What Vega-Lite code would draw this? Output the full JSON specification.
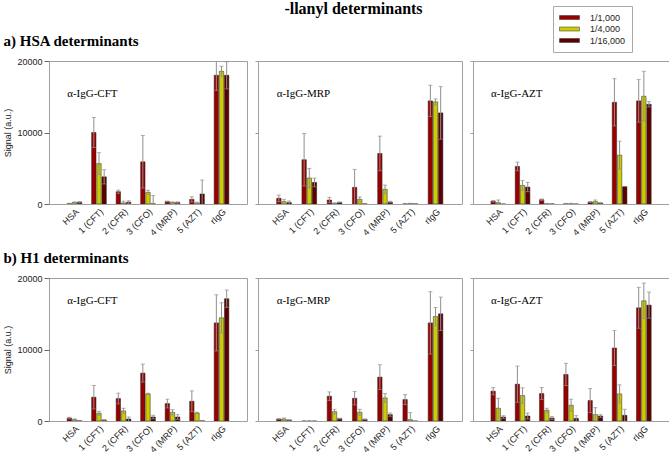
{
"$schema":"https://vega.github.io/schema/vega-lite/v6.json",
"padding":{"left":3,"top":0,"right":0,"bottom":0},
"title":{"text":"-llanyl determinants","font":"Liberation Serif","fontSize":16,"fontWeight":"bold","anchor":"middle","dx":17,"offset":-11,"color":"#000"},
"data":{"values":[
{"r":"a","ab":"α-IgG-CFT","det":"HSA","dil":"1/1,000","v":50,"lo":0,"hi":100},
{"r":"a","ab":"α-IgG-CFT","det":"HSA","dil":"1/4,000","v":200,"lo":100,"hi":300},
{"r":"a","ab":"α-IgG-CFT","det":"HSA","dil":"1/16,000","v":250,"lo":150,"hi":350},
{"r":"a","ab":"α-IgG-CFT","det":"1 (CFT)","dil":"1/1,000","v":10000,"lo":7900,"hi":12100},
{"r":"a","ab":"α-IgG-CFT","det":"1 (CFT)","dil":"1/4,000","v":5650,"lo":4120,"hi":7180},
{"r":"a","ab":"α-IgG-CFT","det":"1 (CFT)","dil":"1/16,000","v":3800,"lo":2800,"hi":4800},
{"r":"a","ab":"α-IgG-CFT","det":"2 (CFR)","dil":"1/1,000","v":1720,"lo":1490,"hi":1950},
{"r":"a","ab":"α-IgG-CFT","det":"2 (CFR)","dil":"1/4,000","v":150,"lo":0,"hi":400},
{"r":"a","ab":"α-IgG-CFT","det":"2 (CFR)","dil":"1/16,000","v":250,"lo":50,"hi":450},
{"r":"a","ab":"α-IgG-CFT","det":"3 (CFO)","dil":"1/1,000","v":5900,"lo":2220,"hi":9580},
{"r":"a","ab":"α-IgG-CFT","det":"3 (CFO)","dil":"1/4,000","v":1630,"lo":1330,"hi":1930},
{"r":"a","ab":"α-IgG-CFT","det":"3 (CFO)","dil":"1/16,000","v":30,"lo":0,"hi":1180},
{"r":"a","ab":"α-IgG-CFT","det":"4 (MRP)","dil":"1/1,000","v":350,"lo":300,"hi":400},
{"r":"a","ab":"α-IgG-CFT","det":"4 (MRP)","dil":"1/4,000","v":200,"lo":100,"hi":300},
{"r":"a","ab":"α-IgG-CFT","det":"4 (MRP)","dil":"1/16,000","v":200,"lo":100,"hi":300},
{"r":"a","ab":"α-IgG-CFT","det":"5 (AZT)","dil":"1/1,000","v":650,"lo":280,"hi":1020},
{"r":"a","ab":"α-IgG-CFT","det":"5 (AZT)","dil":"1/4,000","v":150,"lo":50,"hi":250},
{"r":"a","ab":"α-IgG-CFT","det":"5 (AZT)","dil":"1/16,000","v":1400,"lo":0,"hi":3350},
{"r":"a","ab":"α-IgG-CFT","det":"rIgG","dil":"1/1,000","v":18000,"lo":15900,"hi":20100},
{"r":"a","ab":"α-IgG-CFT","det":"rIgG","dil":"1/4,000","v":18560,"lo":17860,"hi":19260},
{"r":"a","ab":"α-IgG-CFT","det":"rIgG","dil":"1/16,000","v":18000,"lo":16100,"hi":19900},
{"r":"a","ab":"α-IgG-MRP","det":"HSA","dil":"1/1,000","v":790,"lo":330,"hi":1250},
{"r":"a","ab":"α-IgG-MRP","det":"HSA","dil":"1/4,000","v":330,"lo":10,"hi":650},
{"r":"a","ab":"α-IgG-MRP","det":"HSA","dil":"1/16,000","v":190,"lo":0,"hi":420},
{"r":"a","ab":"α-IgG-MRP","det":"1 (CFT)","dil":"1/1,000","v":6190,"lo":2520,"hi":9860},
{"r":"a","ab":"α-IgG-MRP","det":"1 (CFT)","dil":"1/4,000","v":3630,"lo":2280,"hi":4980},
{"r":"a","ab":"α-IgG-MRP","det":"1 (CFT)","dil":"1/16,000","v":3020,"lo":2410,"hi":3630},
{"r":"a","ab":"α-IgG-MRP","det":"2 (CFR)","dil":"1/1,000","v":560,"lo":190,"hi":930},
{"r":"a","ab":"α-IgG-MRP","det":"2 (CFR)","dil":"1/4,000","v":100,"lo":50,"hi":150},
{"r":"a","ab":"α-IgG-MRP","det":"2 (CFR)","dil":"1/16,000","v":230,"lo":180,"hi":280},
{"r":"a","ab":"α-IgG-MRP","det":"3 (CFO)","dil":"1/1,000","v":2330,"lo":0,"hi":4840},
{"r":"a","ab":"α-IgG-MRP","det":"3 (CFO)","dil":"1/4,000","v":650,"lo":320,"hi":980},
{"r":"a","ab":"α-IgG-MRP","det":"3 (CFO)","dil":"1/16,000","v":20,"lo":0,"hi":40},
{"r":"a","ab":"α-IgG-MRP","det":"4 (MRP)","dil":"1/1,000","v":7070,"lo":4650,"hi":9490},
{"r":"a","ab":"α-IgG-MRP","det":"4 (MRP)","dil":"1/4,000","v":2050,"lo":1450,"hi":2650},
{"r":"a","ab":"α-IgG-MRP","det":"4 (MRP)","dil":"1/16,000","v":280,"lo":180,"hi":380},
{"r":"a","ab":"α-IgG-MRP","det":"5 (AZT)","dil":"1/1,000","v":30,"lo":10,"hi":50},
{"r":"a","ab":"α-IgG-MRP","det":"5 (AZT)","dil":"1/4,000","v":60,"lo":20,"hi":100},
{"r":"a","ab":"α-IgG-MRP","det":"5 (AZT)","dil":"1/16,000","v":20,"lo":0,"hi":40},
{"r":"a","ab":"α-IgG-MRP","det":"rIgG","dil":"1/1,000","v":14420,"lo":12230,"hi":16610},
{"r":"a","ab":"α-IgG-MRP","det":"rIgG","dil":"1/4,000","v":14280,"lo":13860,"hi":14700},
{"r":"a","ab":"α-IgG-MRP","det":"rIgG","dil":"1/16,000","v":12740,"lo":9060,"hi":16420},
{"r":"a","ab":"α-IgG-AZT","det":"HSA","dil":"1/1,000","v":400,"lo":300,"hi":500},
{"r":"a","ab":"α-IgG-AZT","det":"HSA","dil":"1/4,000","v":190,"lo":0,"hi":560},
{"r":"a","ab":"α-IgG-AZT","det":"HSA","dil":"1/16,000","v":0,"lo":0,"hi":0},
{"r":"a","ab":"α-IgG-AZT","det":"1 (CFT)","dil":"1/1,000","v":5260,"lo":4660,"hi":5860},
{"r":"a","ab":"α-IgG-AZT","det":"1 (CFT)","dil":"1/4,000","v":2600,"lo":1900,"hi":3300},
{"r":"a","ab":"α-IgG-AZT","det":"1 (CFT)","dil":"1/16,000","v":2370,"lo":1720,"hi":3020},
{"r":"a","ab":"α-IgG-AZT","det":"2 (CFR)","dil":"1/1,000","v":600,"lo":500,"hi":700},
{"r":"a","ab":"α-IgG-AZT","det":"2 (CFR)","dil":"1/4,000","v":50,"lo":20,"hi":80},
{"r":"a","ab":"α-IgG-AZT","det":"2 (CFR)","dil":"1/16,000","v":30,"lo":10,"hi":50},
{"r":"a","ab":"α-IgG-AZT","det":"3 (CFO)","dil":"1/1,000","v":50,"lo":20,"hi":80},
{"r":"a","ab":"α-IgG-AZT","det":"3 (CFO)","dil":"1/4,000","v":60,"lo":30,"hi":90},
{"r":"a","ab":"α-IgG-AZT","det":"3 (CFO)","dil":"1/16,000","v":0,"lo":0,"hi":0},
{"r":"a","ab":"α-IgG-AZT","det":"4 (MRP)","dil":"1/1,000","v":280,"lo":230,"hi":330},
{"r":"a","ab":"α-IgG-AZT","det":"4 (MRP)","dil":"1/4,000","v":330,"lo":100,"hi":560},
{"r":"a","ab":"α-IgG-AZT","det":"4 (MRP)","dil":"1/16,000","v":140,"lo":90,"hi":190},
{"r":"a","ab":"α-IgG-AZT","det":"5 (AZT)","dil":"1/1,000","v":14230,"lo":10930,"hi":17530},
{"r":"a","ab":"α-IgG-AZT","det":"5 (AZT)","dil":"1/4,000","v":6840,"lo":4890,"hi":8790},
{"r":"a","ab":"α-IgG-AZT","det":"5 (AZT)","dil":"1/16,000","v":2420,"lo":2420,"hi":2420},
{"r":"a","ab":"α-IgG-AZT","det":"rIgG","dil":"1/1,000","v":14420,"lo":11440,"hi":17400},
{"r":"a","ab":"α-IgG-AZT","det":"rIgG","dil":"1/4,000","v":15070,"lo":11580,"hi":18560},
{"r":"a","ab":"α-IgG-AZT","det":"rIgG","dil":"1/16,000","v":13950,"lo":13570,"hi":14330},
{"r":"b","ab":"α-IgG-CFT","det":"HSA","dil":"1/1,000","v":420,"lo":320,"hi":520},
{"r":"b","ab":"α-IgG-CFT","det":"HSA","dil":"1/4,000","v":190,"lo":90,"hi":290},
{"r":"b","ab":"α-IgG-CFT","det":"HSA","dil":"1/16,000","v":50,"lo":20,"hi":80},
{"r":"b","ab":"α-IgG-CFT","det":"1 (CFT)","dil":"1/1,000","v":3330,"lo":1690,"hi":4970},
{"r":"b","ab":"α-IgG-CFT","det":"1 (CFT)","dil":"1/4,000","v":1080,"lo":800,"hi":1360},
{"r":"b","ab":"α-IgG-CFT","det":"1 (CFT)","dil":"1/16,000","v":140,"lo":90,"hi":190},
{"r":"b","ab":"α-IgG-CFT","det":"2 (CFR)","dil":"1/1,000","v":3140,"lo":2390,"hi":3890},
{"r":"b","ab":"α-IgG-CFT","det":"2 (CFR)","dil":"1/4,000","v":1410,"lo":1040,"hi":1780},
{"r":"b","ab":"α-IgG-CFT","det":"2 (CFR)","dil":"1/16,000","v":280,"lo":0,"hi":560},
{"r":"b","ab":"α-IgG-CFT","det":"3 (CFO)","dil":"1/1,000","v":6700,"lo":5440,"hi":7960},
{"r":"b","ab":"α-IgG-CFT","det":"3 (CFO)","dil":"1/4,000","v":3790,"lo":3690,"hi":3890},
{"r":"b","ab":"α-IgG-CFT","det":"3 (CFO)","dil":"1/16,000","v":560,"lo":320,"hi":800},
{"r":"b","ab":"α-IgG-CFT","det":"4 (MRP)","dil":"1/1,000","v":2440,"lo":1830,"hi":3050},
{"r":"b","ab":"α-IgG-CFT","det":"4 (MRP)","dil":"1/4,000","v":1220,"lo":850,"hi":1590},
{"r":"b","ab":"α-IgG-CFT","det":"4 (MRP)","dil":"1/16,000","v":560,"lo":230,"hi":890},
{"r":"b","ab":"α-IgG-CFT","det":"5 (AZT)","dil":"1/1,000","v":2760,"lo":1310,"hi":4210},
{"r":"b","ab":"α-IgG-CFT","det":"5 (AZT)","dil":"1/4,000","v":1120,"lo":1020,"hi":1220},
{"r":"b","ab":"α-IgG-CFT","det":"5 (AZT)","dil":"1/16,000","v":50,"lo":20,"hi":80},
{"r":"b","ab":"α-IgG-CFT","det":"rIgG","dil":"1/1,000","v":13720,"lo":9790,"hi":17650},
{"r":"b","ab":"α-IgG-CFT","det":"rIgG","dil":"1/4,000","v":14430,"lo":12320,"hi":16540},
{"r":"b","ab":"α-IgG-CFT","det":"rIgG","dil":"1/16,000","v":17100,"lo":15880,"hi":18320},
{"r":"b","ab":"α-IgG-MRP","det":"HSA","dil":"1/1,000","v":280,"lo":230,"hi":330},
{"r":"b","ab":"α-IgG-MRP","det":"HSA","dil":"1/4,000","v":280,"lo":140,"hi":420},
{"r":"b","ab":"α-IgG-MRP","det":"HSA","dil":"1/16,000","v":140,"lo":90,"hi":190},
{"r":"b","ab":"α-IgG-MRP","det":"1 (CFT)","dil":"1/1,000","v":0,"lo":0,"hi":0},
{"r":"b","ab":"α-IgG-MRP","det":"1 (CFT)","dil":"1/4,000","v":0,"lo":0,"hi":0},
{"r":"b","ab":"α-IgG-MRP","det":"1 (CFT)","dil":"1/16,000","v":0,"lo":0,"hi":0},
{"r":"b","ab":"α-IgG-MRP","det":"2 (CFR)","dil":"1/1,000","v":3470,"lo":2870,"hi":4070},
{"r":"b","ab":"α-IgG-MRP","det":"2 (CFR)","dil":"1/4,000","v":1310,"lo":980,"hi":1640},
{"r":"b","ab":"α-IgG-MRP","det":"2 (CFR)","dil":"1/16,000","v":330,"lo":280,"hi":380},
{"r":"b","ab":"α-IgG-MRP","det":"3 (CFO)","dil":"1/1,000","v":3180,"lo":2240,"hi":4120},
{"r":"b","ab":"α-IgG-MRP","det":"3 (CFO)","dil":"1/4,000","v":1220,"lo":800,"hi":1640},
{"r":"b","ab":"α-IgG-MRP","det":"3 (CFO)","dil":"1/16,000","v":230,"lo":180,"hi":280},
{"r":"b","ab":"α-IgG-MRP","det":"4 (MRP)","dil":"1/1,000","v":6140,"lo":4410,"hi":7870},
{"r":"b","ab":"α-IgG-MRP","det":"4 (MRP)","dil":"1/4,000","v":3230,"lo":2620,"hi":3840},
{"r":"b","ab":"α-IgG-MRP","det":"4 (MRP)","dil":"1/16,000","v":890,"lo":660,"hi":1120},
{"r":"b","ab":"α-IgG-MRP","det":"5 (AZT)","dil":"1/1,000","v":3000,"lo":2300,"hi":3700},
{"r":"b","ab":"α-IgG-MRP","det":"5 (AZT)","dil":"1/4,000","v":190,"lo":0,"hi":1170},
{"r":"b","ab":"α-IgG-MRP","det":"5 (AZT)","dil":"1/16,000","v":0,"lo":0,"hi":0},
{"r":"b","ab":"α-IgG-MRP","det":"rIgG","dil":"1/1,000","v":13720,"lo":9360,"hi":18080},
{"r":"b","ab":"α-IgG-MRP","det":"rIgG","dil":"1/4,000","v":14610,"lo":13340,"hi":15880},
{"r":"b","ab":"α-IgG-MRP","det":"rIgG","dil":"1/16,000","v":14990,"lo":12650,"hi":17330},
{"r":"b","ab":"α-IgG-AZT","det":"HSA","dil":"1/1,000","v":4170,"lo":3660,"hi":4680},
{"r":"b","ab":"α-IgG-AZT","det":"HSA","dil":"1/4,000","v":1780,"lo":380,"hi":3180},
{"r":"b","ab":"α-IgG-AZT","det":"HSA","dil":"1/16,000","v":560,"lo":370,"hi":750},
{"r":"b","ab":"α-IgG-AZT","det":"1 (CFT)","dil":"1/1,000","v":5150,"lo":2620,"hi":7680},
{"r":"b","ab":"α-IgG-AZT","det":"1 (CFT)","dil":"1/4,000","v":3560,"lo":2480,"hi":4640},
{"r":"b","ab":"α-IgG-AZT","det":"1 (CFT)","dil":"1/16,000","v":700,"lo":280,"hi":1120},
{"r":"b","ab":"α-IgG-AZT","det":"2 (CFR)","dil":"1/1,000","v":3840,"lo":3000,"hi":4680},
{"r":"b","ab":"α-IgG-AZT","det":"2 (CFR)","dil":"1/4,000","v":1500,"lo":1220,"hi":1780},
{"r":"b","ab":"α-IgG-AZT","det":"2 (CFR)","dil":"1/16,000","v":420,"lo":230,"hi":610},
{"r":"b","ab":"α-IgG-AZT","det":"3 (CFO)","dil":"1/1,000","v":6510,"lo":4960,"hi":8060},
{"r":"b","ab":"α-IgG-AZT","det":"3 (CFO)","dil":"1/4,000","v":2200,"lo":1360,"hi":3040},
{"r":"b","ab":"α-IgG-AZT","det":"3 (CFO)","dil":"1/16,000","v":370,"lo":0,"hi":750},
{"r":"b","ab":"α-IgG-AZT","det":"4 (MRP)","dil":"1/1,000","v":2860,"lo":1180,"hi":4540},
{"r":"b","ab":"α-IgG-AZT","det":"4 (MRP)","dil":"1/4,000","v":890,"lo":0,"hi":1870},
{"r":"b","ab":"α-IgG-AZT","det":"4 (MRP)","dil":"1/16,000","v":700,"lo":510,"hi":890},
{"r":"b","ab":"α-IgG-AZT","det":"5 (AZT)","dil":"1/1,000","v":10210,"lo":7770,"hi":12650},
{"r":"b","ab":"α-IgG-AZT","det":"5 (AZT)","dil":"1/4,000","v":3790,"lo":2520,"hi":5060},
{"r":"b","ab":"α-IgG-AZT","det":"5 (AZT)","dil":"1/16,000","v":800,"lo":0,"hi":1640},
{"r":"b","ab":"α-IgG-AZT","det":"rIgG","dil":"1/1,000","v":15830,"lo":12970,"hi":18690},
{"r":"b","ab":"α-IgG-AZT","det":"rIgG","dil":"1/4,000","v":16810,"lo":14330,"hi":19290},
{"r":"b","ab":"α-IgG-AZT","det":"rIgG","dil":"1/16,000","v":16210,"lo":14380,"hi":18040}
]},
"vconcat":[
{"title":{"text":"a) HSA determinants","anchor":"start","font":"Liberation Serif","fontSize":15,"fontWeight":"bold","offset":8,"color":"#000"},
 "hconcat":[
 {"width":198,"height":143,"transform":[{"filter":"datum.r=='a' && datum.ab=='α-IgG-CFT'"}],
  "layer":[
   {"mark":{"type":"bar","stroke":"#222","strokeWidth":0.5,"clip":true},"encoding":{
     "x":{"field":"det","type":"nominal","scale":{"domain":["HSA","1 (CFT)","2 (CFR)","3 (CFO)","4 (MRP)","5 (AZT)","rIgG"],"paddingInner":0.4,"paddingOuter":0.74},"axis":{"title":null,"labelAngle":-45,"ticks":false,"domain":false,"labelFontSize":9,"labelPadding":3}},
     "xOffset":{"field":"dil","type":"nominal","scale":{"domain":["1/1,000","1/4,000","1/16,000"],"paddingInner":0.15}},
     "y":{"field":"v","type":"quantitative","title":"Signal (a.u.)","scale":{"domain":[0,20000]},"axis":{"values":[0,5000,10000,15000,20000],"format":"d","grid":false,"domain":false,"tickSize":5,"tickColor":"#666","labelFontSize":9,"labelPadding":2,"titleFontSize":9,"titleFontWeight":"normal","titlePadding":4}},
     "color":{"field":"dil","type":"nominal","title":null,"scale":{"domain":["1/1,000","1/4,000","1/16,000"],"range":["#990000","#CCCC00","#5C0000"]}}}},
   {"mark":{"type":"rule","color":"#8f8f8f","clip":true},"encoding":{
     "x":{"field":"det","type":"nominal"},"xOffset":{"field":"dil","type":"nominal"},
     "y":{"field":"lo","type":"quantitative","title":"Signal (a.u.)"},"y2":{"field":"hi"}}},
   {"transform":[{"filter":"datum.hi > datum.v"}],"mark":{"type":"tick","color":"#8f8f8f","size":4,"thickness":1,"clip":true},"encoding":{
     "x":{"field":"det","type":"nominal"},"xOffset":{"field":"dil","type":"nominal"},
     "y":{"field":"hi","type":"quantitative","title":"Signal (a.u.)"}}},
   {"transform":[{"filter":"datum.lo > 0 && datum.lo < datum.v"}],"mark":{"type":"tick","color":"#8f8f8f","size":4,"thickness":1,"clip":true},"encoding":{
     "x":{"field":"det","type":"nominal"},"xOffset":{"field":"dil","type":"nominal"},
     "y":{"field":"lo","type":"quantitative","title":"Signal (a.u.)"}}},
   {"transform":[{"filter":"datum.det=='HSA' && datum.dil=='1/1,000'"}],"mark":{"type":"text","align":"left","baseline":"middle","font":"Liberation Serif","fontSize":11,"color":"#000"},"encoding":{
     "x":{"field":"det","type":"nominal","bandPosition":0},"y":{"datum":15400,"type":"quantitative"},"text":{"field":"ab"}}}
  ]},
 {"width":204,"height":143,"transform":[{"filter":"datum.r=='a' && datum.ab=='α-IgG-MRP'"}],
  "layer":[
   {"mark":{"type":"bar","stroke":"#222","strokeWidth":0.5,"clip":true},"encoding":{
     "x":{"field":"det","type":"nominal","scale":{"domain":["HSA","1 (CFT)","2 (CFR)","3 (CFO)","4 (MRP)","5 (AZT)","rIgG"],"paddingInner":0.4,"paddingOuter":0.74},"axis":{"title":null,"labelAngle":-45,"ticks":false,"domain":false,"labelFontSize":9,"labelPadding":3}},
     "xOffset":{"field":"dil","type":"nominal","scale":{"domain":["1/1,000","1/4,000","1/16,000"],"paddingInner":0.15}},
     "y":{"field":"v","type":"quantitative","title":null,"scale":{"domain":[0,20000]},"axis":{"values":[0,5000,10000,15000,20000],"labels":false,"grid":false,"domain":false,"tickSize":3,"tickColor":"#999"}},
     "color":{"field":"dil","type":"nominal","title":null,"scale":{"domain":["1/1,000","1/4,000","1/16,000"],"range":["#990000","#CCCC00","#5C0000"]}}}},
   {"mark":{"type":"rule","color":"#8f8f8f","clip":true},"encoding":{
     "x":{"field":"det","type":"nominal"},"xOffset":{"field":"dil","type":"nominal"},
     "y":{"field":"lo","type":"quantitative","title":null},"y2":{"field":"hi"}}},
   {"transform":[{"filter":"datum.hi > datum.v"}],"mark":{"type":"tick","color":"#8f8f8f","size":4,"thickness":1,"clip":true},"encoding":{
     "x":{"field":"det","type":"nominal"},"xOffset":{"field":"dil","type":"nominal"},
     "y":{"field":"hi","type":"quantitative","title":null}}},
   {"transform":[{"filter":"datum.lo > 0 && datum.lo < datum.v"}],"mark":{"type":"tick","color":"#8f8f8f","size":4,"thickness":1,"clip":true},"encoding":{
     "x":{"field":"det","type":"nominal"},"xOffset":{"field":"dil","type":"nominal"},
     "y":{"field":"lo","type":"quantitative","title":null}}},
   {"transform":[{"filter":"datum.det=='HSA' && datum.dil=='1/1,000'"}],"mark":{"type":"text","align":"left","baseline":"middle","font":"Liberation Serif","fontSize":11,"color":"#000"},"encoding":{
     "x":{"field":"det","type":"nominal","bandPosition":0},"y":{"datum":15400,"type":"quantitative"},"text":{"field":"ab"}}}
  ]},
 {"width":196,"height":143,"transform":[{"filter":"datum.r=='a' && datum.ab=='α-IgG-AZT'"}],
  "layer":[
   {"mark":{"type":"bar","stroke":"#222","strokeWidth":0.5,"clip":true},"encoding":{
     "x":{"field":"det","type":"nominal","scale":{"domain":["HSA","1 (CFT)","2 (CFR)","3 (CFO)","4 (MRP)","5 (AZT)","rIgG"],"paddingInner":0.4,"paddingOuter":0.74},"axis":{"title":null,"labelAngle":-45,"ticks":false,"domain":false,"labelFontSize":9,"labelPadding":3}},
     "xOffset":{"field":"dil","type":"nominal","scale":{"domain":["1/1,000","1/4,000","1/16,000"],"paddingInner":0.15}},
     "y":{"field":"v","type":"quantitative","title":null,"scale":{"domain":[0,20000]},"axis":{"values":[0,5000,10000,15000,20000],"labels":false,"grid":false,"domain":false,"tickSize":3,"tickColor":"#999"}},
     "color":{"field":"dil","type":"nominal","title":null,"scale":{"domain":["1/1,000","1/4,000","1/16,000"],"range":["#990000","#CCCC00","#5C0000"]}}}},
   {"mark":{"type":"rule","color":"#8f8f8f","clip":true},"encoding":{
     "x":{"field":"det","type":"nominal"},"xOffset":{"field":"dil","type":"nominal"},
     "y":{"field":"lo","type":"quantitative","title":null},"y2":{"field":"hi"}}},
   {"transform":[{"filter":"datum.hi > datum.v"}],"mark":{"type":"tick","color":"#8f8f8f","size":4,"thickness":1,"clip":true},"encoding":{
     "x":{"field":"det","type":"nominal"},"xOffset":{"field":"dil","type":"nominal"},
     "y":{"field":"hi","type":"quantitative","title":null}}},
   {"transform":[{"filter":"datum.lo > 0 && datum.lo < datum.v"}],"mark":{"type":"tick","color":"#8f8f8f","size":4,"thickness":1,"clip":true},"encoding":{
     "x":{"field":"det","type":"nominal"},"xOffset":{"field":"dil","type":"nominal"},
     "y":{"field":"lo","type":"quantitative","title":null}}},
   {"transform":[{"filter":"datum.det=='HSA' && datum.dil=='1/1,000'"}],"mark":{"type":"text","align":"left","baseline":"middle","font":"Liberation Serif","fontSize":11,"color":"#000"},"encoding":{
     "x":{"field":"det","type":"nominal","bandPosition":0},"y":{"datum":15400,"type":"quantitative"},"text":{"field":"ab"}}}
  ]}
 ],"spacing":11,"bounds":"flush"},
{"title":{"text":"b) H1 determinants","anchor":"start","font":"Liberation Serif","fontSize":15,"fontWeight":"bold","offset":8,"color":"#000"},
 "hconcat":[
 {"width":198,"height":143,"transform":[{"filter":"datum.r=='b' && datum.ab=='α-IgG-CFT'"}],
  "layer":[
   {"mark":{"type":"bar","stroke":"#222","strokeWidth":0.5,"clip":true},"encoding":{
     "x":{"field":"det","type":"nominal","scale":{"domain":["HSA","1 (CFT)","2 (CFR)","3 (CFO)","4 (MRP)","5 (AZT)","rIgG"],"paddingInner":0.4,"paddingOuter":0.74},"axis":{"title":null,"labelAngle":-45,"ticks":false,"domain":false,"labelFontSize":9,"labelPadding":3}},
     "xOffset":{"field":"dil","type":"nominal","scale":{"domain":["1/1,000","1/4,000","1/16,000"],"paddingInner":0.15}},
     "y":{"field":"v","type":"quantitative","title":"Signal (a.u.)","scale":{"domain":[0,20000]},"axis":{"values":[0,5000,10000,15000,20000],"format":"d","grid":false,"domain":false,"tickSize":5,"tickColor":"#666","labelFontSize":9,"labelPadding":2,"titleFontSize":9,"titleFontWeight":"normal","titlePadding":4}},
     "color":{"field":"dil","type":"nominal","title":null,"scale":{"domain":["1/1,000","1/4,000","1/16,000"],"range":["#990000","#CCCC00","#5C0000"]}}}},
   {"mark":{"type":"rule","color":"#8f8f8f","clip":true},"encoding":{
     "x":{"field":"det","type":"nominal"},"xOffset":{"field":"dil","type":"nominal"},
     "y":{"field":"lo","type":"quantitative","title":"Signal (a.u.)"},"y2":{"field":"hi"}}},
   {"transform":[{"filter":"datum.hi > datum.v"}],"mark":{"type":"tick","color":"#8f8f8f","size":4,"thickness":1,"clip":true},"encoding":{
     "x":{"field":"det","type":"nominal"},"xOffset":{"field":"dil","type":"nominal"},
     "y":{"field":"hi","type":"quantitative","title":"Signal (a.u.)"}}},
   {"transform":[{"filter":"datum.lo > 0 && datum.lo < datum.v"}],"mark":{"type":"tick","color":"#8f8f8f","size":4,"thickness":1,"clip":true},"encoding":{
     "x":{"field":"det","type":"nominal"},"xOffset":{"field":"dil","type":"nominal"},
     "y":{"field":"lo","type":"quantitative","title":"Signal (a.u.)"}}},
   {"transform":[{"filter":"datum.det=='HSA' && datum.dil=='1/1,000'"}],"mark":{"type":"text","align":"left","baseline":"middle","font":"Liberation Serif","fontSize":11,"color":"#000"},"encoding":{
     "x":{"field":"det","type":"nominal","bandPosition":0},"y":{"datum":16800,"type":"quantitative"},"text":{"field":"ab"}}}
  ]},
 {"width":204,"height":143,"transform":[{"filter":"datum.r=='b' && datum.ab=='α-IgG-MRP'"}],
  "layer":[
   {"mark":{"type":"bar","stroke":"#222","strokeWidth":0.5,"clip":true},"encoding":{
     "x":{"field":"det","type":"nominal","scale":{"domain":["HSA","1 (CFT)","2 (CFR)","3 (CFO)","4 (MRP)","5 (AZT)","rIgG"],"paddingInner":0.4,"paddingOuter":0.74},"axis":{"title":null,"labelAngle":-45,"ticks":false,"domain":false,"labelFontSize":9,"labelPadding":3}},
     "xOffset":{"field":"dil","type":"nominal","scale":{"domain":["1/1,000","1/4,000","1/16,000"],"paddingInner":0.15}},
     "y":{"field":"v","type":"quantitative","title":null,"scale":{"domain":[0,20000]},"axis":{"values":[0,5000,10000,15000,20000],"labels":false,"grid":false,"domain":false,"tickSize":3,"tickColor":"#999"}},
     "color":{"field":"dil","type":"nominal","title":null,"scale":{"domain":["1/1,000","1/4,000","1/16,000"],"range":["#990000","#CCCC00","#5C0000"]}}}},
   {"mark":{"type":"rule","color":"#8f8f8f","clip":true},"encoding":{
     "x":{"field":"det","type":"nominal"},"xOffset":{"field":"dil","type":"nominal"},
     "y":{"field":"lo","type":"quantitative","title":null},"y2":{"field":"hi"}}},
   {"transform":[{"filter":"datum.hi > datum.v"}],"mark":{"type":"tick","color":"#8f8f8f","size":4,"thickness":1,"clip":true},"encoding":{
     "x":{"field":"det","type":"nominal"},"xOffset":{"field":"dil","type":"nominal"},
     "y":{"field":"hi","type":"quantitative","title":null}}},
   {"transform":[{"filter":"datum.lo > 0 && datum.lo < datum.v"}],"mark":{"type":"tick","color":"#8f8f8f","size":4,"thickness":1,"clip":true},"encoding":{
     "x":{"field":"det","type":"nominal"},"xOffset":{"field":"dil","type":"nominal"},
     "y":{"field":"lo","type":"quantitative","title":null}}},
   {"transform":[{"filter":"datum.det=='HSA' && datum.dil=='1/1,000'"}],"mark":{"type":"text","align":"left","baseline":"middle","font":"Liberation Serif","fontSize":11,"color":"#000"},"encoding":{
     "x":{"field":"det","type":"nominal","bandPosition":0},"y":{"datum":16800,"type":"quantitative"},"text":{"field":"ab"}}}
  ]},
 {"width":196,"height":143,"transform":[{"filter":"datum.r=='b' && datum.ab=='α-IgG-AZT'"}],
  "layer":[
   {"mark":{"type":"bar","stroke":"#222","strokeWidth":0.5,"clip":true},"encoding":{
     "x":{"field":"det","type":"nominal","scale":{"domain":["HSA","1 (CFT)","2 (CFR)","3 (CFO)","4 (MRP)","5 (AZT)","rIgG"],"paddingInner":0.4,"paddingOuter":0.74},"axis":{"title":null,"labelAngle":-45,"ticks":false,"domain":false,"labelFontSize":9,"labelPadding":3}},
     "xOffset":{"field":"dil","type":"nominal","scale":{"domain":["1/1,000","1/4,000","1/16,000"],"paddingInner":0.15}},
     "y":{"field":"v","type":"quantitative","title":null,"scale":{"domain":[0,20000]},"axis":{"values":[0,5000,10000,15000,20000],"labels":false,"grid":false,"domain":false,"tickSize":3,"tickColor":"#999"}},
     "color":{"field":"dil","type":"nominal","title":null,"scale":{"domain":["1/1,000","1/4,000","1/16,000"],"range":["#990000","#CCCC00","#5C0000"]}}}},
   {"mark":{"type":"rule","color":"#8f8f8f","clip":true},"encoding":{
     "x":{"field":"det","type":"nominal"},"xOffset":{"field":"dil","type":"nominal"},
     "y":{"field":"lo","type":"quantitative","title":null},"y2":{"field":"hi"}}},
   {"transform":[{"filter":"datum.hi > datum.v"}],"mark":{"type":"tick","color":"#8f8f8f","size":4,"thickness":1,"clip":true},"encoding":{
     "x":{"field":"det","type":"nominal"},"xOffset":{"field":"dil","type":"nominal"},
     "y":{"field":"hi","type":"quantitative","title":null}}},
   {"transform":[{"filter":"datum.lo > 0 && datum.lo < datum.v"}],"mark":{"type":"tick","color":"#8f8f8f","size":4,"thickness":1,"clip":true},"encoding":{
     "x":{"field":"det","type":"nominal"},"xOffset":{"field":"dil","type":"nominal"},
     "y":{"field":"lo","type":"quantitative","title":null}}},
   {"transform":[{"filter":"datum.det=='HSA' && datum.dil=='1/1,000'"}],"mark":{"type":"text","align":"left","baseline":"middle","font":"Liberation Serif","fontSize":11,"color":"#000"},"encoding":{
     "x":{"field":"det","type":"nominal","bandPosition":0},"y":{"datum":16800,"type":"quantitative"},"text":{"field":"ab"}}}
  ]}
 ],"spacing":11,"bounds":"flush"}
],
"spacing":12,
"config":{
 "view":{"stroke":"#a0a0a0"},
 "axis":{"labelFont":"Liberation Sans","titleFont":"Liberation Sans","labelColor":"#222","titleColor":"#222"},
 "legend":{"orient":"none","legendX":504,"legendY":-55,"strokeColor":"#aaa","padding":6,"labelFont":"Liberation Sans","labelFontSize":9,"labelColor":"#222","symbolType":"M-2,-0.4H2V0.4H-2Z","symbolSize":100,"symbolOffset":5,"symbolStrokeColor":"#333","symbolStrokeWidth":0.5,"rowPadding":0.5,"labelOffset":15,"fillColor":"#fff"}
}
}
